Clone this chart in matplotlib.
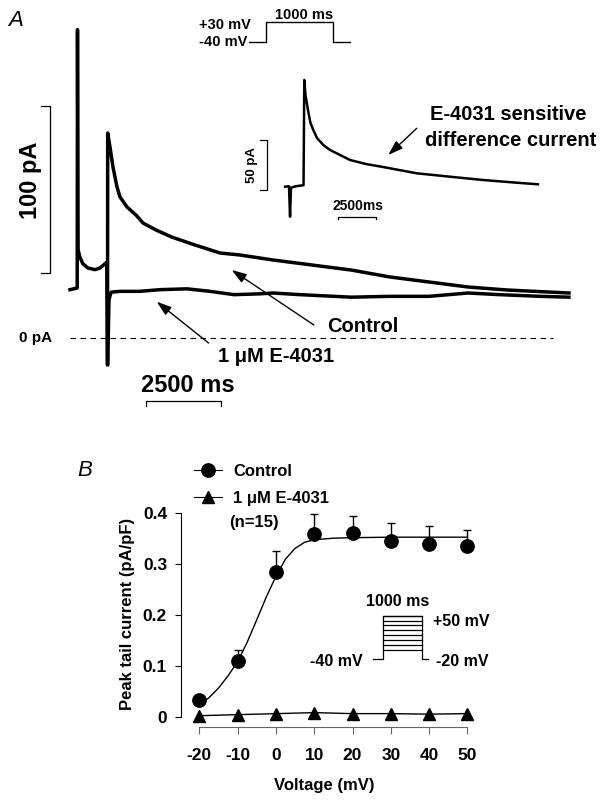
import numpy as np
import matplotlib
matplotlib.use('Agg')
import matplotlib.pyplot as plt
from matplotlib.lines import Line2D

W, H = 610, 800

# ---------------- panel A : current traces (time in ms, current in pA) ----------------
ctrl_t = [0, 240, 250, 270, 330, 430, 600, 830, 1000, 1130, 1230, 1250, 1257,
          1333, 1433, 1567, 1667, 1900, 2200, 2433, 2867, 3400, 4167, 5000, 5667,
          6767, 8067, 9367, 10667, 11967, 13267, 14567, 16633]
ctrl_i = [29, 30, 185, 53, 48.5, 44.5, 42, 41, 42, 44, 45.5, -16, 123,
          114.6, 102.6, 90.6, 84.6, 78.6, 73.8, 69, 64.8, 60.5, 55.8, 51, 49.8,
          46.8, 43.8, 40.8, 36.6, 33.6, 30.6, 28.8, 27]

e4031_t = [1257, 1300, 1370, 1670, 2330, 3000, 3900, 4670, 5470, 6330, 6770,
           7670, 9370, 10670, 11970, 13270, 14330, 15670, 16630]
e4031_i = [-16, 23, 27.5, 28, 28, 29, 29.5, 28, 26, 26.5, 27,
           26, 24.5, 25, 25, 27, 26, 25, 24.5]

# E-4031 sensitive difference current (inset)
diff_t = [0, 260, 330, 390, 720, 1210, 1260, 1338, 1436, 1534, 1664, 1847, 2089,
          2500, 2937, 3375, 4243, 5287, 6397, 8597, 10770, 12924, 15124, 16514]
diff_i = [0, 0.5, -30, -1, 0.5, 1.5, 106.7, 91.7, 82.7, 73.7, 63.7, 56.7, 48.7,
          41.7, 36.7, 33.4, 26.7, 22.7, 19.7, 13.4, 10, 6.7, 4, 2.4]

# voltage protocols (ms, mV)
protA_t = [-250, 0, 0, 1000, 1000, 1250]
protA_v = [-40, -40, 30, 30, -40, -40]
protB_t = [-240, 0, 0, 1000, 1000, 1170]
protB_v = [-40, -40, 50, 50, -40, -40]
protB_levels = [-20, -10, 0, 10, 20, 30, 40, 50]
PULSE_MS = 1000

# scale bars
SCALE_T = 2500
SCALE_I = 100
SCALE_I_INSET = 50

# ---------------- panel B : peak tail current ----------------
volt = [-20, -10, 0, 10, 20, 30, 40, 50]
ctrl_peak = [0.033, 0.109, 0.284, 0.358, 0.360, 0.345, 0.338, 0.335]
ctrl_sem = [0.0, 0.021, 0.040, 0.039, 0.034, 0.034, 0.036, 0.032]
e4031_peak = [0.002, 0.004, 0.006, 0.008, 0.006, 0.006, 0.005, 0.006]
fit_v = [-20, -17.5, -15, -12.5, -10, -7.5, -5, -2.5, 0, 2.5, 5, 7.5, 10, 15, 20, 30, 50]
fit_i = [0.024, 0.037, 0.056, 0.080, 0.108, 0.146, 0.190, 0.235, 0.275, 0.309,
         0.330, 0.342, 0.347, 0.350, 0.351, 0.352, 0.352]

plt.rcParams['font.family'] = ['Liberation Sans', 'DejaVu Sans']
plt.rcParams['font.weight'] = 'bold'
plt.rcParams['axes.unicode_minus'] = False

fig = plt.figure(figsize=(W / 100, H / 100), dpi=100)


def box(x0, y0, x1, y1):
    # pixel box (top-left origin) -> figure fraction rect
    return [x0 / W, 1 - y1 / H, (x1 - x0) / W, (y1 - y0) / H]


def ftxt(x, y, s, **kw):
    kw.setdefault('ha', 'center')
    kw.setdefault('va', 'center')
    fig.text(x / W, 1 - y / H, s, **kw)


arrow = dict(arrowstyle='-|>,head_length=0.9,head_width=0.3', color='k',
             lw=1.0, shrinkA=0, shrinkB=0)

# --- main traces
axA = fig.add_axes(box(0, 0, 610, 420))
axA.set_xlim(-2333, 18000)
axA.set_ylim(-49.2, 202.8)
axA.set_axis_off()
axA.plot(ctrl_t, ctrl_i, color='k', lw=2.5)
axA.plot(e4031_t, e4031_i, color='k', lw=2.5)
axA.hlines(0, 0, 16100, colors='k', linestyles=(0, (5, 4)), lw=0.8)

bx, by = -667, 39
axA.plot([bx - 300, bx, bx, bx - 300], [by + SCALE_I, by + SCALE_I, by, by], color='k', lw=0.9)
tx, ty = 2550, -38
axA.plot([tx, tx, tx + SCALE_T, tx + SCALE_T], [ty - 2.5, ty, ty, ty - 2.5], color='k', lw=0.9)

axA.annotate('', xy=(5390, 40.8), xytext=(8130, 7.8), arrowprops=arrow)
axA.annotate('', xy=(2890, 21.8), xytext=(4620, -3), arrowprops=arrow)

# --- inset difference current
axI = fig.add_axes(box(240, 60, 610, 230))
axI.set_xlim(-2937, 21214)
axI.set_ylim(-43.3, 126.7)
axI.set_axis_off()
axI.plot(diff_t, diff_i, color='k', lw=1.8)
ix, iy = -1175, -3.3
axI.plot([ix - 457, ix, ix, ix - 457], [iy + SCALE_I_INSET, iy + SCALE_I_INSET, iy, iy], color='k', lw=0.9)
jx, jy = 3460, -30
axI.plot([jx, jx, jx + SCALE_T, jx + SCALE_T], [jy - 2, jy, jy, jy - 2], color='k', lw=0.9)
axI.annotate('', xy=(6743, 31.7), xytext=(8600, 58.4), arrowprops=arrow)

# --- voltage protocol A
axPA = fig.add_axes(box(240, 10, 360, 50))
axPA.set_xlim(-388, 1403)
axPA.set_ylim(-70, 74.4)
axPA.set_axis_off()
axPA.plot(protA_t, protA_v, color='k', lw=1.0)

# --- texts panel A
ftxt(16, 21, 'A', size=16, style='italic', weight='normal')
ftxt(30, 180, '100 pA', size=17, rotation=90)
ftxt(188, 386, '2500 ms', size=17)
ftxt(36, 338, '0 pA', size=11)
ftxt(363, 326, 'Control', size=14.5)
ftxt(276, 356, '1 \u03bcM E-4031', size=14.5)
ftxt(508, 115, 'E-4031 sensitive', size=14.5)
ftxt(511, 141, 'difference current', size=14.5)
ftxt(251, 25, '+30 mV', size=10.5, ha='right')
ftxt(247, 42, '-40 mV', size=10.5, ha='right')
ftxt(304, 15, '1000 ms', size=10.5)
ftxt(252, 165, '50 pA', size=9.5, rotation=90)
ftxt(358, 206, '2500ms', size=10)

# ---------------- panel B ----------------
axB = fig.add_axes(box(181, 505, 490, 727))
axB.set_xlim(-24.78, 55.9)
axB.set_ylim(-0.0202, 0.4151)
axB.errorbar(volt, ctrl_peak, yerr=[np.zeros(len(volt)), ctrl_sem], fmt='none',
             ecolor='k', elinewidth=1, capsize=3, capthick=1, zorder=2)
axB.plot(fit_v, fit_i, color='k', lw=1.0, zorder=2)
axB.plot(volt, e4031_peak, color='k', lw=1.0, marker='^', ms=8.5, zorder=3)
axB.plot(volt, ctrl_peak, 'o', color='k', ms=9.6, zorder=3)

for s in ['top', 'right']:
    axB.spines[s].set_visible(False)
axB.spines['left'].set_bounds(0, 0.4)
axB.spines['bottom'].set_bounds(-20, 50)
axB.spines['bottom'].set_color('#666666')
axB.spines['left'].set_linewidth(0.8)
axB.spines['bottom'].set_linewidth(0.8)
axB.set_yticks([0, 0.1, 0.2, 0.3, 0.4])
axB.set_yticklabels(['0', '0.1', '0.2', '0.3', '0.4'])
axB.set_xticks(volt)
axB.tick_params(axis='y', length=4, width=0.8, pad=6, labelsize=12.5)
axB.tick_params(axis='x', length=5, width=0.8, pad=10, labelsize=12.5, color='#666666')
axB.set_xlabel('Voltage (mV)', size=12, weight='bold')
axB.set_ylabel('Peak tail current (pA/pF)', size=12, weight='bold')
axB.xaxis.set_label_coords(0.463, -0.228)
axB.yaxis.set_label_coords(-0.149, 0.51)

handles = [Line2D([], [], color='k', marker='o', ms=9.6, lw=0.8),
           Line2D([], [], color='k', marker='^', ms=8.5, lw=0.8)]
fig.legend(handles, ['Control', '1 \u03bcM E-4031'], loc='upper left',
           bbox_to_anchor=(194 / W, 1 - 464 / H), frameon=False, borderpad=0,
           borderaxespad=0, handlelength=1.7, handletextpad=0.65, labelspacing=0.7,
           prop=dict(size=12, weight='bold'))
ftxt(229, 522, '(n=15)', size=12, ha='left')
ftxt(85, 471, 'B', size=16, style='italic', weight='normal')

# --- voltage protocol B
axPB = fig.add_axes(box(360, 605, 440, 670))
axPB.set_xlim(-582, 1469)
axPB.set_ylim(-62.1, 72.2)
axPB.set_axis_off()
axPB.plot(protB_t, protB_v, color='k', lw=0.9)
for lvl in protB_levels:
    axPB.plot([0, PULSE_MS], [lvl, lvl], color='k', lw=0.9)
ftxt(398, 601, '1000 ms', size=11.5)
ftxt(433, 621, '+50 mV', size=11.5, ha='left')
ftxt(363, 661, '-40 mV', size=11.5, ha='right')
ftxt(436, 661, '-20 mV', size=11.5, ha='left')

fig.savefig('out.png', dpi=100)
